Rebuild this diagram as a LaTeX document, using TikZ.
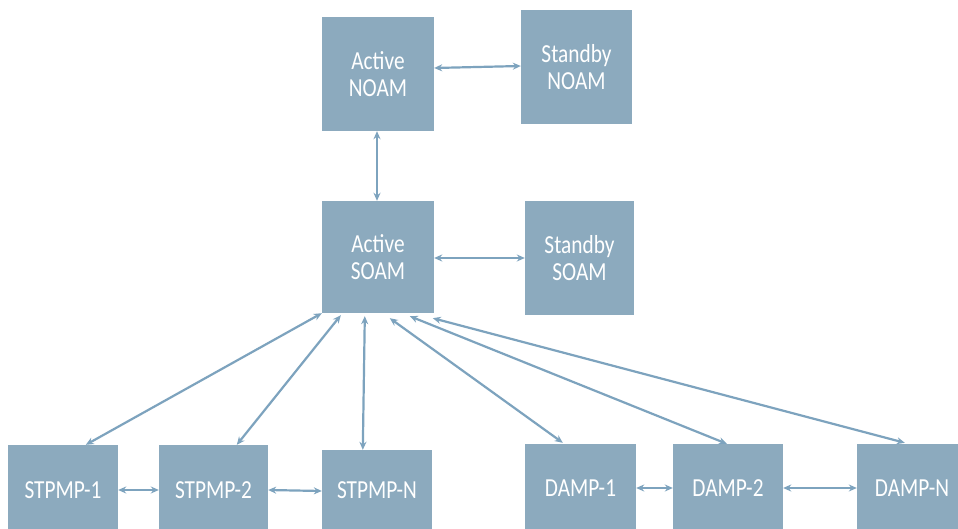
\documentclass[tikz,border=0pt]{standalone}
\usepackage{fontspec}
\newfontfamily\boxfont[FakeStretch=0.82]{Carlito}
\usetikzlibrary{arrows.meta}
\definecolor{boxblue}{RGB}{140,170,190}
\definecolor{arrblue}{RGB}{125,163,190}
\begin{document}
\begin{tikzpicture}[x=1pt,y=-1pt,
  box/.style={fill=boxblue,draw=none,inner sep=0pt,align=center,text=white,
    font=\boxfont\fontsize{26}{27}\selectfont},
  arr/.style={draw=arrblue,line width=2.2pt,
    {Stealth[length=8pt,width=7pt]}-{Stealth[length=8pt,width=7pt]}}]
\clip (0,0) rectangle (958,529);
\fill[white] (0,0) rectangle (958,529);
% top level
\node[box,minimum width=112pt,minimum height=114pt] (anoam) at (378,74) {Active\\NOAM};
\node[box,minimum width=111pt,minimum height=114pt] (snoam) at (576.5,67) {Standby\\NOAM};
\node[box,minimum width=112pt,minimum height=112pt] (asoam) at (378,257) {Active\\SOAM};
\node[box,minimum width=109pt,minimum height=114pt] (ssoam) at (579.5,258) {Standby\\SOAM};
% bottom row
\node[box,minimum width=110pt,minimum height=90pt] (st1) at (63,490) {STPMP-1};
\node[box,minimum width=109pt,minimum height=90pt] (st2) at (213.5,490) {STPMP-2};
\node[box,minimum width=110pt,minimum height=80pt] (stN) at (377,490) {STPMP-N};
\node[box,minimum width=111pt,minimum height=88pt] (d1) at (580.5,488) {DAMP-1};
\node[box,minimum width=110pt,minimum height=88pt] (d2) at (728,488) {DAMP-2};
\node[box,minimum width=110pt,minimum height=88pt] (dN) at (912,488) {DAMP-N};
% connectors
\draw[arr] ([yshift=6pt]anoam.east) -- ([yshift=1pt]snoam.west);
\draw[arr] ([xshift=-1pt]anoam.south) -- ([xshift=-1pt]asoam.north);
\draw[arr] ([yshift=-1pt]asoam.east) -- (ssoam.west);
\draw[arr] (asoam.south west) -- ([xshift=78pt]st1.north west);
\draw[arr] ([xshift=19pt,yshift=-2pt]asoam.south west) -- ([xshift=78pt]st2.north west);
\draw[arr] ([xshift=43pt,yshift=-3pt]asoam.south west) -- ([xshift=41pt]stN.north west);
\draw[arr] ([xshift=68pt,yshift=-5pt]asoam.south west) -- ([xshift=38pt,yshift=1pt]d1.north west);
\draw[arr] ([xshift=88pt,yshift=-3pt]asoam.south west) -- ([xshift=54pt]d2.north west);
\draw[arr] ([xshift=111pt,yshift=-5pt]asoam.south west) -- ([xshift=48pt,yshift=1pt]dN.north west);
\draw[arr] (st1.east) -- (st2.west);
\draw[arr] (st2.east) -- ([yshift=-1pt]stN.west);
\draw[arr] (d1.east) -- (d2.west);
\draw[arr] (d2.east) -- (dN.west);
\end{tikzpicture}
\end{document}
